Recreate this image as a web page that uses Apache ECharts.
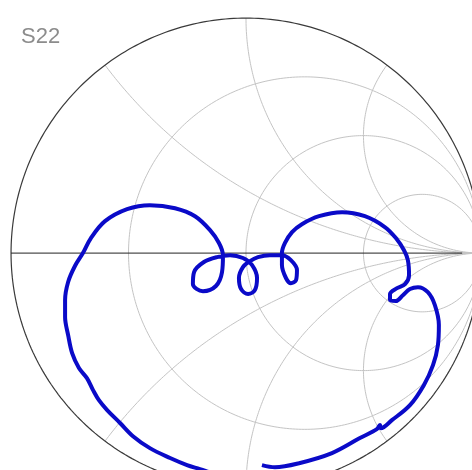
<!DOCTYPE html>
<html><head><meta charset="utf-8">
<style>html,body{margin:0;padding:0;background:#fff;}#c{width:472px;height:470px;}</style>
<script src="https://cdn.jsdelivr.net/npm/echarts@6/dist/echarts.min.js"></script>
</head><body><div id="c"></div>
<script>
const titleText = 'S22';
const resistanceValues = [1/3, 1, 3];
const reactanceValues = [0.5, 1, 2, -0.5, -1, -2];
// S22 trace, reflection coefficient (real, imaginary), in drawing order
const s22Re = [0.068,0.123,0.226,0.366,0.485,0.557,0.570,0.574,0.621,0.698,0.757,0.796,0.817,0.821,0.804,0.774,0.732,0.698,0.668,0.638,0.613,0.613,0.643,0.677,0.694,0.689,0.672,0.638,0.591,0.506,0.409,0.311,0.238,0.196,0.166,0.153,0.153,0.170,0.191,0.213,0.217,0.191,0.153,0.102,0.051,0.017,-0.013,-0.030,-0.021,0.009,0.038,0.047,0.026,-0.013,-0.068,-0.123,-0.179,-0.221,-0.226,-0.183,-0.128,-0.102,-0.098,-0.115,-0.153,-0.217,-0.302,-0.409,-0.506,-0.600,-0.660,-0.694,-0.728,-0.757,-0.770,-0.770,-0.757,-0.740,-0.711,-0.677,-0.651,-0.626,-0.591,-0.536,-0.481,-0.409,-0.323,-0.251,-0.196,-0.132,-0.068];
const s22Im = [-0.902,-0.911,-0.894,-0.851,-0.787,-0.749,-0.732,-0.745,-0.711,-0.647,-0.562,-0.477,-0.391,-0.306,-0.221,-0.166,-0.145,-0.153,-0.179,-0.204,-0.200,-0.174,-0.149,-0.132,-0.094,-0.030,0.013,0.064,0.111,0.157,0.174,0.157,0.123,0.089,0.043,0.000,-0.051,-0.106,-0.128,-0.115,-0.072,-0.030,-0.009,-0.009,-0.017,-0.034,-0.060,-0.106,-0.153,-0.174,-0.157,-0.106,-0.051,-0.021,-0.009,-0.017,-0.038,-0.081,-0.132,-0.162,-0.140,-0.081,-0.009,0.043,0.098,0.157,0.191,0.204,0.187,0.136,0.064,0.000,-0.055,-0.123,-0.200,-0.272,-0.349,-0.426,-0.489,-0.532,-0.583,-0.626,-0.668,-0.723,-0.779,-0.830,-0.872,-0.902,-0.919,-0.940,-0.957];
// visible window of the reflection-coefficient plane (chart is cropped right and bottom)
const viewRe = [-1.047, 0.962];
const viewIm = [-0.923, 1.077];

function zToGamma(r, x) { const d = (r+1)*(r+1) + x*x; return [(r*r + x*x - 1)/d, 2*x/d]; }
function resistanceCircle(r) {
  const c = r/(r+1), rad = 1/(r+1), pts = [];
  for (let i = 0; i <= 360; i++) { const t = 2*Math.PI*i/360; pts.push([c + rad*Math.cos(t), rad*Math.sin(t)]); }
  return pts;
}
function reactanceArc(x) {
  const pts = [];
  for (let i = 0; i <= 400; i++) { const th = (Math.PI/2)*i/400; const r = i === 400 ? 1e9 : Math.tan(th); pts.push(zToGamma(r, x)); }
  return pts;
}
const gridStyle = { color: '#c4c4c4', width: 1 };
const series = [];
resistanceValues.forEach(r => series.push({ type:'line', data: resistanceCircle(r), showSymbol:false, silent:true, lineStyle: gridStyle, z:1 }));
reactanceValues.forEach(x => series.push({ type:'line', data: reactanceArc(x), showSymbol:false, silent:true, lineStyle: gridStyle, z:1 }));
series.push({ type:'line', data: resistanceCircle(0), showSymbol:false, silent:true, lineStyle:{ color:'#3a3a3a', width:1.2 }, z:2 });
series.push({ type:'line', data: [[-1,0],[0.92,0]], showSymbol:false, silent:true, lineStyle:{ color:'#222', width:1 }, z:2 });
series.push({ type:'line', data: s22Re.map((v,i)=>[v, s22Im[i]]), showSymbol:false, smooth:0.35, lineStyle:{ color:'#0a0ac8', width:4 }, z:5 });

const chart = echarts.init(document.getElementById('c'), null, { renderer:'canvas' });
chart.setOption({
  animation:false,
  backgroundColor:'#fff',
  title:{ text:titleText, left:21, top:26, padding:0, textStyle:{ fontSize:22, fontWeight:'normal', color:'#8c8c8c', fontFamily:'Liberation Sans' } },
  grid:{ left:0, top:0, right:0, bottom:0 },
  xAxis:{ type:'value', min:viewRe[0], max:viewRe[1], show:false },
  yAxis:{ type:'value', min:viewIm[0], max:viewIm[1], show:false },
  series
});
</script></body></html>
